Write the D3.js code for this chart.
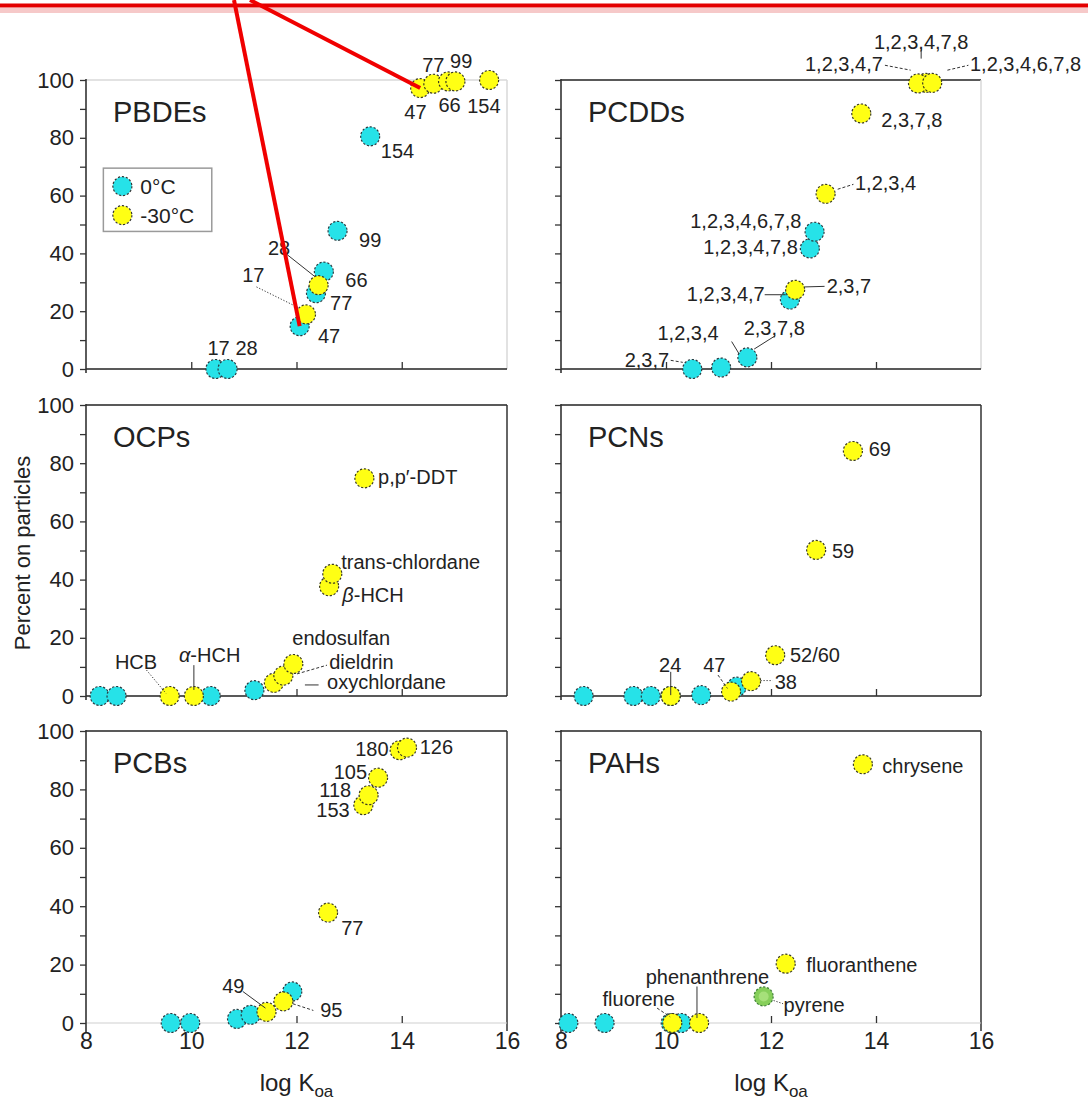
<!DOCTYPE html>
<html><head><meta charset="utf-8">
<script src="https://cdn.jsdelivr.net/npm/d3@7"></script>
<style>body{margin:0;background:#fff}svg{display:block}text{font-family:"Liberation Sans",Arial,sans-serif;fill:#222}</style>
</head><body>
<script>
// ---------------- DATA (log Koa, percent on particles) ----------------
const xTicks = [8, 10, 12, 14, 16];
const yTicks = [0, 20, 40, 60, 80, 100];
const seriesNames = ["0°C", "-30°C"];

const pbde0C   = [["17",10.46,0],["28",10.69,0],["47",12.06,14.8],["77",12.37,26.2],["66",12.52,33.7],["99",12.78,47.8],["154",13.40,80.5]];
const pbdeM30C = [["17",12.18,18.9],["28",12.42,29],["47",14.35,97.2],["77",14.60,98.7],["66",14.88,99.5],["99",15.02,99.5],["154",15.66,100]];

const pcdd0C   = [["2,3,7",10.50,0],["1,2,3,4",11.05,0.5],["2,3,7,8",11.55,4],["1,2,3,4,7",12.36,24],["1,2,3,4,7,8",12.74,41.7],["1,2,3,4,6,7,8",12.83,47.5]];
const pcddM30C = [["1,2,3,4,7,8",14.95,99],["2,3,7",12.46,27.4],["1,2,3,4",13.04,60.6],["2,3,7,8",13.72,88.4],["1,2,3,4,7",14.80,98.8],["1,2,3,4,6,7,8",15.07,99]];

const ocp0C    = [["a",8.26,0],["b",8.58,0],["c",10.37,0],["d",11.20,2]];
const ocpM30C  = [["HCB",9.59,0],["α-HCH",10.05,0],["oxychlordane",11.57,4.5],["dieldrin",11.75,7],["endosulfan",11.94,11],["β-HCH",12.62,37.7],["trans-chlordane",12.68,42],["p,p′-DDT",13.29,74.8]];

const pcn0C    = [["a",8.43,0],["b",9.38,0],["c",9.71,0],["24",10.09,0],["d",10.67,0.3],["e",11.35,3.2]];
const pcnM30C  = [["24",10.09,0],["47",11.24,1.5],["38",11.62,5.1],["52/60",12.08,14],["59",12.86,50.2],["69",13.56,84.2]];

const pcb0C    = [["a",9.61,0],["b",9.98,0],["c",10.87,1.4],["d",11.13,2.8],["e",11.92,10.8]];
const pcbM30C  = [["49",11.43,3.8],["95",11.75,7.4],["77",12.60,37.8],["153",13.27,74.6],["118",13.37,78],["105",13.55,84],["180",13.96,93.4],["126",14.10,94.3]];

const pah0C    = [["a",8.14,0],["b",8.83,0],["c",10.09,0],["d",10.29,0]];
const pahM30C  = [["fluorene",10.12,0],["phenanthrene",10.63,0],["fluoranthene",12.28,20.3],["chrysene",13.75,88.6]];
const pahBoth  = [["pyrene",11.86,9.1]];

// label annotations: [text, x, y, anchor, leader [x1,y1,x2,y2,style]]
const pbdeLabels = [
 ["17",10.52,7.2,"middle"],["28",11.05,7.2,"middle"],["47",12.62,11.3,"middle"],["77",12.85,22.8,"middle"],
 ["66",13.14,30.9,"middle"],["99",13.40,44.8,"middle"],["154",13.92,75.3,"middle"],
 ["28",11.67,41.9,"middle",[11.80,39.9,12.34,32.1,"solid"]],
 ["17",11.18,32.6,"middle",[11.24,28.4,12.05,21.1,"dot"]],
 ["77",14.60,105.3,"middle"],["99",15.13,106.5,"middle"],["47",14.26,89.1,"middle"],["66",14.91,91.5,"middle"],["154",15.56,91.1,"middle"]
];
const pcddLabels = [
 ["1,2,3,4,7,8",14.86,113.2,"middle",[14.86,110.9,14.86,107.4,"solid"]],
 ["1,2,3,4,7",14.13,105.7,"end",[14.17,105.1,14.66,103.4,"dash"]],
 ["1,2,3,4,6,7,8",15.79,105.7,"start",[15.36,103.4,15.76,105.1,"dash"]],
 ["2,3,7,8",14.10,86.2,"start"],
 ["1,2,3,4",13.60,64.5,"start",[13.27,62.2,13.57,63.9,"dash"]],
 ["1,2,3,4,6,7,8",12.58,51.3,"end"],
 ["1,2,3,4,7,8",12.51,42.1,"end"],
 ["1,2,3,4,7",11.88,25.8,"end",[11.88,25.7,12.28,25.7,"solid"]],
 ["2,3,7",13.06,28.6,"start",[12.64,28.4,13.02,28.6,"solid"]],
 ["2,3,7,8",11.48,14.1,"start",[12.08,11.5,11.68,6.9,"solid"]],
 ["1,2,3,4",10.42,12.4,"middle",[11.25,9.5,11.39,5.3,"solid"]],
 ["2,3,7",10.06,3.2,"end",[10.09,3.0,10.32,2.3,"dash"]]
];
const ocpLabels = [
 ["p,p′-DDT",13.55,75.3,"start"],["trans-chlordane",12.85,46.1,"start"],["β-HCH",12.87,34.7,"start"],
 ["endosulfan",11.92,19.8,"start"],
 ["dieldrin",12.62,11.8,"start",[12.01,7.6,12.58,10.6,"dash"]],
 ["oxychlordane",12.58,4.9,"start",[12.16,3.8,12.42,3.8,"solid"]],
 ["HCB",8.95,11.8,"middle",[9.15,8.9,9.52,0.9,"dot"]],
 ["α-HCH",10.35,14.1,"middle",[10.05,10.6,10.05,2.1,"solid"]]
];
const pcnLabels = [
 ["69",13.86,84.8,"start"],["59",13.16,50,"start"],["52/60",12.36,14,"start"],
 ["38",12.07,4.9,"start",[11.80,5.3,12.03,5.3,"dot"]],
 ["47",10.92,10.6,"middle",[10.99,7.2,11.17,2.6,"dash"]],
 ["24",10.08,10.6,"middle",[10.09,8.3,10.09,0.3,"solid"]]
];
const pcbLabels = [
 ["126",14.34,94.5,"start"],["180",13.75,94,"end"],["105",13.34,86,"end"],["118",13.04,79.7,"end"],["153",13.01,72.9,"end"],
 ["77",12.85,32.5,"start"],
 ["49",10.80,12.8,"middle",[10.98,10.8,11.41,5.1,"solid"]],
 ["95",12.45,4.3,"start",[11.93,6.6,12.32,4.3,"dash"]]
];
const pahLabels = [
 ["chrysene",14.12,87.9,"start"],["fluoranthene",12.67,19.9,"start"],
 ["pyrene",12.24,6.3,"start",[12.05,7.7,12.23,6.6,"dot"]],
 ["phenanthrene",10.79,15.9,"middle",[10.59,12.5,10.59,1.7,"solid"]],
 ["fluorene",9.48,8.2,"middle",[9.83,5.1,10.08,2.1,"dash"]]
];

// ---------------- LAYOUT ----------------
const W = 1088, H = 1102;
const colX = [[86, 507], [561, 981]];
const rowY = [[369, 80], [696, 405], [1023, 731]];
const R = 9.5;
const COL = {c0: "#26e2e8", c30: "#ffff14", both: "#86cf5a"};

const panels = [
 {title:"PBDEs", col:0,row:0, a:pbde0C, b:pbdeM30C, labels:pbdeLabels, topC:"#d8d8d8", rightC:"#d8d8d8", botC:"#222", legend:true},
 {title:"PCDDs", col:1,row:0, a:pcdd0C, b:pcddM30C, labels:pcddLabels, topC:"#222", rightC:"#d8d8d8", botC:"#222"},
 {title:"OCPs",  col:0,row:1, a:ocp0C, b:ocpM30C, labels:ocpLabels, topC:"#222", rightC:"#333", botC:"#222"},
 {title:"PCNs",  col:1,row:1, a:pcn0C, b:pcnM30C, labels:pcnLabels, topC:"#222", rightC:"#333", botC:"#222"},
 {title:"PCBs",  col:0,row:2, a:pcb0C, b:pcbM30C, labels:pcbLabels, topC:"#222", rightC:"#333", botC:"#d0d0d0"},
 {title:"PAHs",  col:1,row:2, a:pah0C, b:pahM30C, both:pahBoth, labels:pahLabels, topC:"#222", rightC:"#333", botC:"#d0d0d0"}
];

const svg = d3.select("body").append("svg").attr("width", W).attr("height", H);
svg.append("rect").attr("width", W).attr("height", H).attr("fill", "#fff");

const dashOf = s => s === "dash" ? "3,2" : s === "dot" ? "1.2,1.8" : null;
let pbdeScales = null;

panels.forEach(p => {
  const x = d3.scaleLinear().domain([8, 16]).range(colX[p.col]);
  const y = d3.scaleLinear().domain([0, 100]).range(rowY[p.row]);
  if (p.title === "PBDEs") pbdeScales = {x, y};
  const g = svg.append("g");
  const [x0, x1] = colX[p.col], [y0, y1] = rowY[p.row];

  // frame
  g.append("line").attr("x1", x0).attr("x2", x1).attr("y1", y1).attr("y2", y1).attr("stroke", p.topC).attr("stroke-width", 1.5);
  g.append("line").attr("x1", x1).attr("x2", x1).attr("y1", y1).attr("y2", y0 + (p.row === 2 ? 8 : 0)).attr("stroke", p.rightC).attr("stroke-width", 1.5);
  g.append("line").attr("x1", x0).attr("x2", x1).attr("y1", y0).attr("y2", y0).attr("stroke", p.botC).attr("stroke-width", p.row === 2 ? 1.2 : 1.5);

  // y axis
  const ya = d3.axisLeft(y).tickValues(d3.range(0, 101, 10)).tickSize(6).tickPadding(6)
    .tickFormat(d => (p.col === 0 && d % 20 === 0) ? d : "");
  const yg = g.append("g").attr("transform", `translate(${x0},0)`).call(ya);
  yg.select(".domain").remove();
  yg.selectAll(".tick line").attr("stroke", "#333").attr("stroke-width", 1.3);
  yg.selectAll(".tick text").style("font-size", "22px").attr("fill", "#222");
  g.append("line").attr("x1", x0).attr("x2", x0).attr("y1", y1 - 1).attr("y2", y0 + (p.row === 2 ? 10 : 4)).attr("stroke", "#333").attr("stroke-width", 1.6);

  // x axis ticks (inward)
  const xa = d3.axisBottom(x).tickValues(p.row === 2 ? xTicks : [10, 12, 14]).tickSizeInner(-7).tickSizeOuter(0).tickPadding(10)
    .tickFormat(d => p.row === 2 ? d : "");
  const xg = g.append("g").attr("transform", `translate(0,${y0})`).call(xa);
  xg.select(".domain").remove();
  xg.selectAll(".tick line").attr("stroke", "#333").attr("stroke-width", 1.3)
    .attr("opacity", d => (d === 8 || d === 16) ? 0 : 1);
  xg.selectAll(".tick text").style("font-size", "23px").attr("fill", "#222");

  // title
  g.append("text").attr("x", x0 + 27).attr("y", y1 + 42).style("font-size", "29px").text(p.title);

  // points
  const drawPts = (arr, fill, stroke) => g.selectAll(null).data(arr).enter().append("circle")
    .attr("cx", d => x(d[1])).attr("cy", d => y(d[2])).attr("r", R)
    .attr("fill", fill).attr("stroke", stroke).attr("stroke-width", 1.2).attr("stroke-dasharray", "2.2,1.8");
  drawPts(p.a, COL.c0, "#2a3a40");
  drawPts(p.b, COL.c30, "#3a3a20");
  if (p.both) {
    drawPts(p.both, COL.both, "#3d7f35");
    g.selectAll(null).data(p.both).enter().append("circle").attr("cx", d => x(d[1])).attr("cy", d => y(d[2])).attr("r", 5).attr("fill", "#a6e07a");
  }

  // labels
  p.labels.forEach(l => {
    if (l[4]) {
      const ld = l[4];
      g.append("line").attr("x1", x(ld[0])).attr("y1", y(ld[1])).attr("x2", x(ld[2])).attr("y2", y(ld[3]))
        .attr("stroke", "#333").attr("stroke-width", 1).attr("stroke-dasharray", dashOf(ld[4]));
    }
    const t = g.append("text").attr("x", x(l[1])).attr("y", y(l[2])).attr("dy", "0.35em")
      .attr("text-anchor", l[3]).style("font-size", "20px");
    const greek = l[0].match(/^([αβ])(.*)$/);
    if (greek) {
      t.append("tspan").style("font-style", "italic").text(greek[1]);
      t.append("tspan").text(greek[2]);
    } else t.text(l[0]);
  });

  // legend
  if (p.legend) {
    const lx = x(8.33), ly = y(69.5), lw = x(10.39) - x(8.33), lh = y(47.6) - y(69.5);
    const lg = g.append("g");
    lg.append("rect").attr("x", lx).attr("y", ly).attr("width", lw).attr("height", lh)
      .attr("fill", "#fff").attr("stroke", "#9a9a9a").attr("stroke-width", 1.5);
    seriesNames.forEach((s, i) => {
      const cy = ly + 18 + i * 29;
      lg.append("circle").attr("cx", lx + 19).attr("cy", cy).attr("r", R)
        .attr("fill", i === 0 ? COL.c0 : COL.c30).attr("stroke", "#333").attr("stroke-width", 1.2).attr("stroke-dasharray", "2.2,1.8");
      lg.append("text").attr("x", lx + 37).attr("y", cy).attr("dy", "0.36em").style("font-size", "21px").text(s);
    });
  }
});

// axis titles
[0, 1].forEach(c => {
  const cx = (colX[c][0] + colX[c][1]) / 2;
  const t = svg.append("text").attr("x", cx).attr("y", 1091).attr("text-anchor", "middle").style("font-size", "24px");
  t.append("tspan").text("log K");
  t.append("tspan").attr("dy", 6).style("font-size", "17px").text("oa");
});
svg.append("text").attr("transform", "translate(30,553) rotate(-90)").attr("text-anchor", "middle")
  .style("font-size", "22px").text("Percent on particles");

// red annotation overlay
svg.append("rect").attr("x", 0).attr("y", 8).attr("width", W).attr("height", 5).attr("fill", "#f6c9c9");
svg.append("line").attr("x1", 0).attr("x2", W).attr("y1", 5.5).attr("y2", 5.5).attr("stroke", "#e30000").attr("stroke-width", 4);
const p47c = pbde0C.find(d => d[0] === "47"), p47y = pbdeM30C.find(d => d[0] === "47");
svg.append("line").attr("x1", 234).attr("y1", 0).attr("x2", pbdeScales.x(p47c[1])).attr("y2", pbdeScales.y(p47c[2]))
  .attr("stroke", "#f00000").attr("stroke-width", 4);
svg.append("line").attr("x1", 250).attr("y1", 0).attr("x2", pbdeScales.x(p47y[1])).attr("y2", pbdeScales.y(p47y[2]))
  .attr("stroke", "#f00000").attr("stroke-width", 4);
</script>
</body></html>
